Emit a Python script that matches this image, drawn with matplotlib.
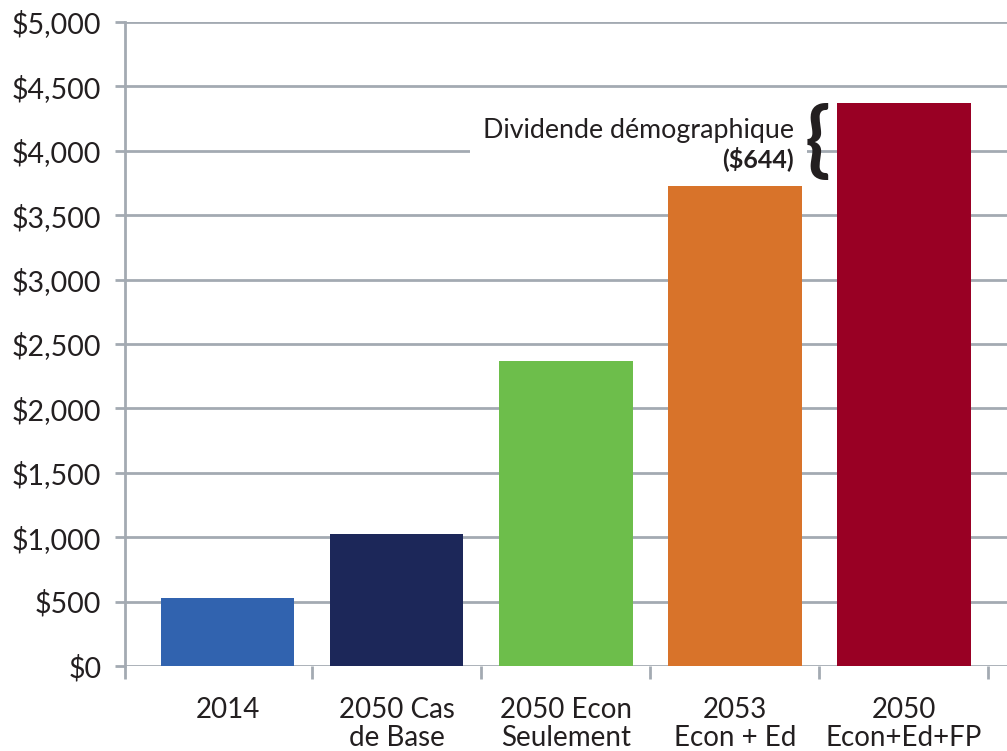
import matplotlib
matplotlib.use("Agg")
import matplotlib.pyplot as plt
from matplotlib.ticker import FuncFormatter, FixedLocator

# -- 데이터 --
categories = ["2014", "2050 Cas\nde Base", "2050 Econ\nSeulement", "2053\nEcon + Ed", "2050\nEcon+Ed+FP"]
values = [528, 1022, 2370, 3725, 4369]
colors = ["#3163AF", "#1C2759", "#6DBE4B", "#D8732A", "#990024"]
y_ticks = [0, 500, 1000, 1500, 2000, 2500, 3000, 3500, 4000, 4500, 5000]
dividend = values[4] - values[3]

GRID = "#A3AAB2"
TXT = "#231F20"
plt.rcParams["font.family"] = ["Lato", "DejaVu Sans"]

fig = plt.figure(figsize=(10.07, 7.51), dpi=100)
ax = fig.add_axes([125 / 1007, 85 / 751, 882 / 1007, 644 / 751])

x = range(len(categories))
ax.bar(x, values, width=0.79, color=colors, zorder=3)

ax.set_xlim(-0.607, 4.61)
ax.set_ylim(0, 5000)
ax.yaxis.set_major_locator(FixedLocator(y_ticks))
ax.yaxis.set_major_formatter(FuncFormatter(lambda v, p: f"${v:,.0f}"))
ax.grid(axis="y", color=GRID, linewidth=2, zorder=0)
ax.set_axisbelow(True)

# -- 축 스타일 --
for s in ["top", "right", "bottom"]:
    ax.spines[s].set_visible(False)
ax.spines["left"].set_color(GRID)
ax.spines["left"].set_linewidth(2)
ax.tick_params(axis="y", length=7, width=2, color=GRID, labelsize=20.5, labelcolor=TXT, pad=10)

# 카테고리 라벨은 major(길이 0), 경계 틱은 minor
ax.set_xticks(list(x))
ax.set_xticklabels(categories, fontsize=20, color=TXT, linespacing=1.1)
ax.tick_params(axis="x", which="major", length=0, pad=22)
ax.set_xticks([-0.607, 0.5, 1.5, 2.5, 3.5, 4.5], minor=True)
ax.tick_params(axis="x", which="minor", length=9, width=2, color=GRID)

# -- 주석: 인구 배당 --
ax.text(3.35, 4160, "Dividende démographique", ha="right", va="center",
        fontsize=19.3, color=TXT, zorder=4,
        bbox=dict(facecolor="white", edgecolor="none", pad=9))
ax.text(3.35, 3940, f"(${dividend})", ha="right", va="center",
        fontsize=18, fontweight="bold", color=TXT, zorder=5)
ax.text(3.49, (values[3] + values[4]) / 2 + 20, "{", ha="center", va="center",
        fontsize=60, fontweight="bold", color=TXT, zorder=5)

fig.savefig("out.png", dpi=100)
